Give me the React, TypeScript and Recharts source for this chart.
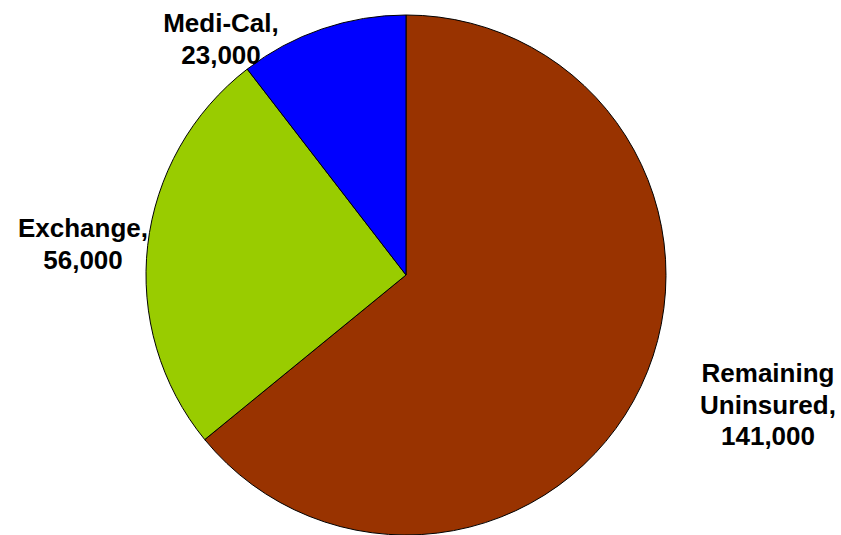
import { PieChart, Pie, Cell } from "recharts";

const names = ["Remaining Uninsured", "Exchange", "Medi-Cal"];
const values = [141000, 56000, 23000];
const labelLines = [["Remaining", "Uninsured,", "141,000"], ["Exchange,", "56,000"], ["Medi-Cal,", "23,000"]];
const colors = ["#993300", "#99CC00", "#0000FF"];

// label anchor offsets from pie centre (first baseline)
const labelOffsets = [
  { dx: 362, dy: 107 },
  { dx: -323, dy: -38 },
  { dx: -185, dy: -243 },
];

const data = names.map((name, i) => ({ name, value: values[i] }));

function renderLabel(props: any) {
  const { cx, cy, index } = props;
  const off = labelOffsets[index];
  const x = cx + off.dx;
  const y = cy + off.dy;
  return (
    <text
      x={x}
      y={y}
      textAnchor="middle"
      fill="#000"
      fontFamily="'Liberation Sans', Arial, sans-serif"
      fontWeight="bold"
      fontSize={26}
    >
      {labelLines[index].map((line, j) => (
        <tspan key={j} x={x} dy={j === 0 ? 0 : 31.5}>
          {line}
        </tspan>
      ))}
    </text>
  );
}

export default function App() {
  return (
    <div style={{ position: "absolute", left: 0, top: 0, width: 841, height: 535, background: "#fff" }}>
      <PieChart width={841} height={535} margin={{ top: 0, right: 0, bottom: 0, left: 0 }}>
        <Pie
          data={data}
          dataKey="value"
          cx={406}
          cy={275}
          outerRadius={260}
          startAngle={90}
          endAngle={-270}
          stroke="#000"
          strokeWidth={1}
          label={renderLabel}
          labelLine={false}
          isAnimationActive={false}
        >
          {data.map((d, i) => (
            <Cell key={d.name} fill={colors[i]} />
          ))}
        </Pie>
      </PieChart>
    </div>
  );
}
